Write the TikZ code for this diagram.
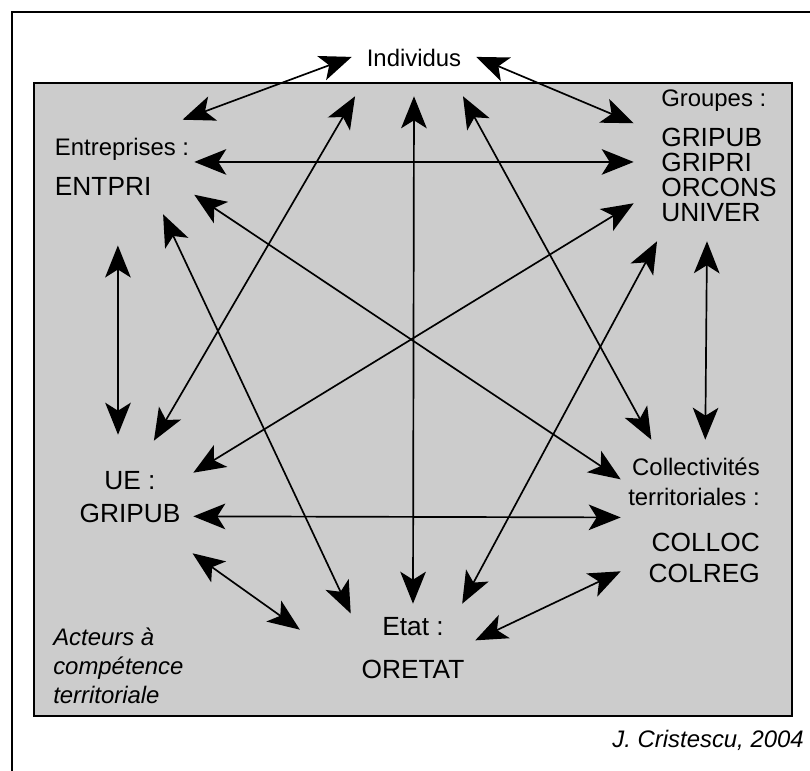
\documentclass[tikz,border=0pt]{standalone}
\usepackage{fontspec}
\setmainfont{Liberation Sans}
\usetikzlibrary{arrows.meta}
\definecolor{panelgray}{RGB}{204,204,204}
\newcommand{\acr}[1]{{\fontsize{18.7}{17.8}\selectfont #1}}

\begin{document}
\begin{tikzpicture}[
    actor/.style={rectangle, inner sep=0pt, font=\fontsize{17}{17.8}\selectfont},
    note/.style={inner sep=0pt, align=left, font=\fontsize{17}{20.6}\selectfont\itshape},
    link/.style={<->, >={Stealth[length=8mm, width=6.4mm, inset=2mm]}, line width=1.2pt},
    frame/.style={line width=1.5pt}
]
\useasboundingbox (0,0) rectangle (20.25,19.275);

% Frame and territorial panel
\draw[frame] (0.3,-0.5) |- (20.75,18.975);
\draw[frame, fill=panelgray] (0.85,1.375) rectangle (19.8,17.2);

% Actors
\node[actor, minimum width=3.1cm, minimum height=1.9cm] (indiv) at (10.35,17.825) {Individus};
\node[actor, align=left, minimum width=3.6cm, minimum height=2.35cm] (entr) at (3.05,15.1) {Entreprises :\\[10.5pt]\acr{ENTPRI}};
\node[actor, align=left, minimum width=4.25cm, minimum height=4.25cm] (grp) at (17.975,15.375) {Groupes :\\[10.5pt]\acr{GRIPUB}\\\acr{GRIPRI}\\\acr{ORCONS}\\\acr{UNIVER}};
\node[actor, align=center, minimum width=3.15cm, minimum height=2.8cm] (ue) at (3.25,6.85) {\acr{UE :}\\[5.7pt]\acr{GRIPUB}};
\node[actor, align=right, minimum width=3.65cm, minimum height=4cm] (coll) at (17.35,6.275) {Collectivités\\[3.5pt]territoriales :\\[14.8pt]\acr{COLLOC}\\[4.2pt]\acr{COLREG}};
\node[actor, align=center, minimum width=3.1cm, minimum height=2.2cm] (etat) at (10.325,3.075) {\acr{Etat :}\\[12.8pt]\acr{ORETAT}};

% Notes
\node[note, anchor=west] (acteurs) at (1.325,2.625) {Acteurs à\\compétence\\territoriale};
\node[note, anchor=east] (auteur) at (20.1,0.775) {J. Cristescu, 2004};

% Links from Individus
\draw[link] (indiv.179) -- (entr.38);
\draw[link] (indiv.1) -- (grp.159);
\draw[link] (indiv.213) -- (ue.67);
\draw[link] (indiv.south) -- (etat.north);
\draw[link] (indiv.322) -- (coll.118);

% Links from Entreprises
\draw[link] (entr.4) -- (grp.184);
\draw[link] (entr.339) -- (coll.151);
\draw[link] (entr.311) -- (etat.151);
\draw[link, shorten <=7.8mm, shorten >=1.5mm] (entr.265) -- (ue.102);

% Links from Groupes
\draw[link] (grp.209) -- (ue.21);
\draw[link] (grp.234) -- (etat.42);
\draw[link] (grp.262) -- (coll.82);

% Remaining links
\draw[link] (ue.343) -- (coll.178);
\draw[link, shorten >=15.6mm] (ue.318) -- (etat.196);
\draw[link] (coll.215) -- (etat.7);

\end{tikzpicture}
\end{document}
